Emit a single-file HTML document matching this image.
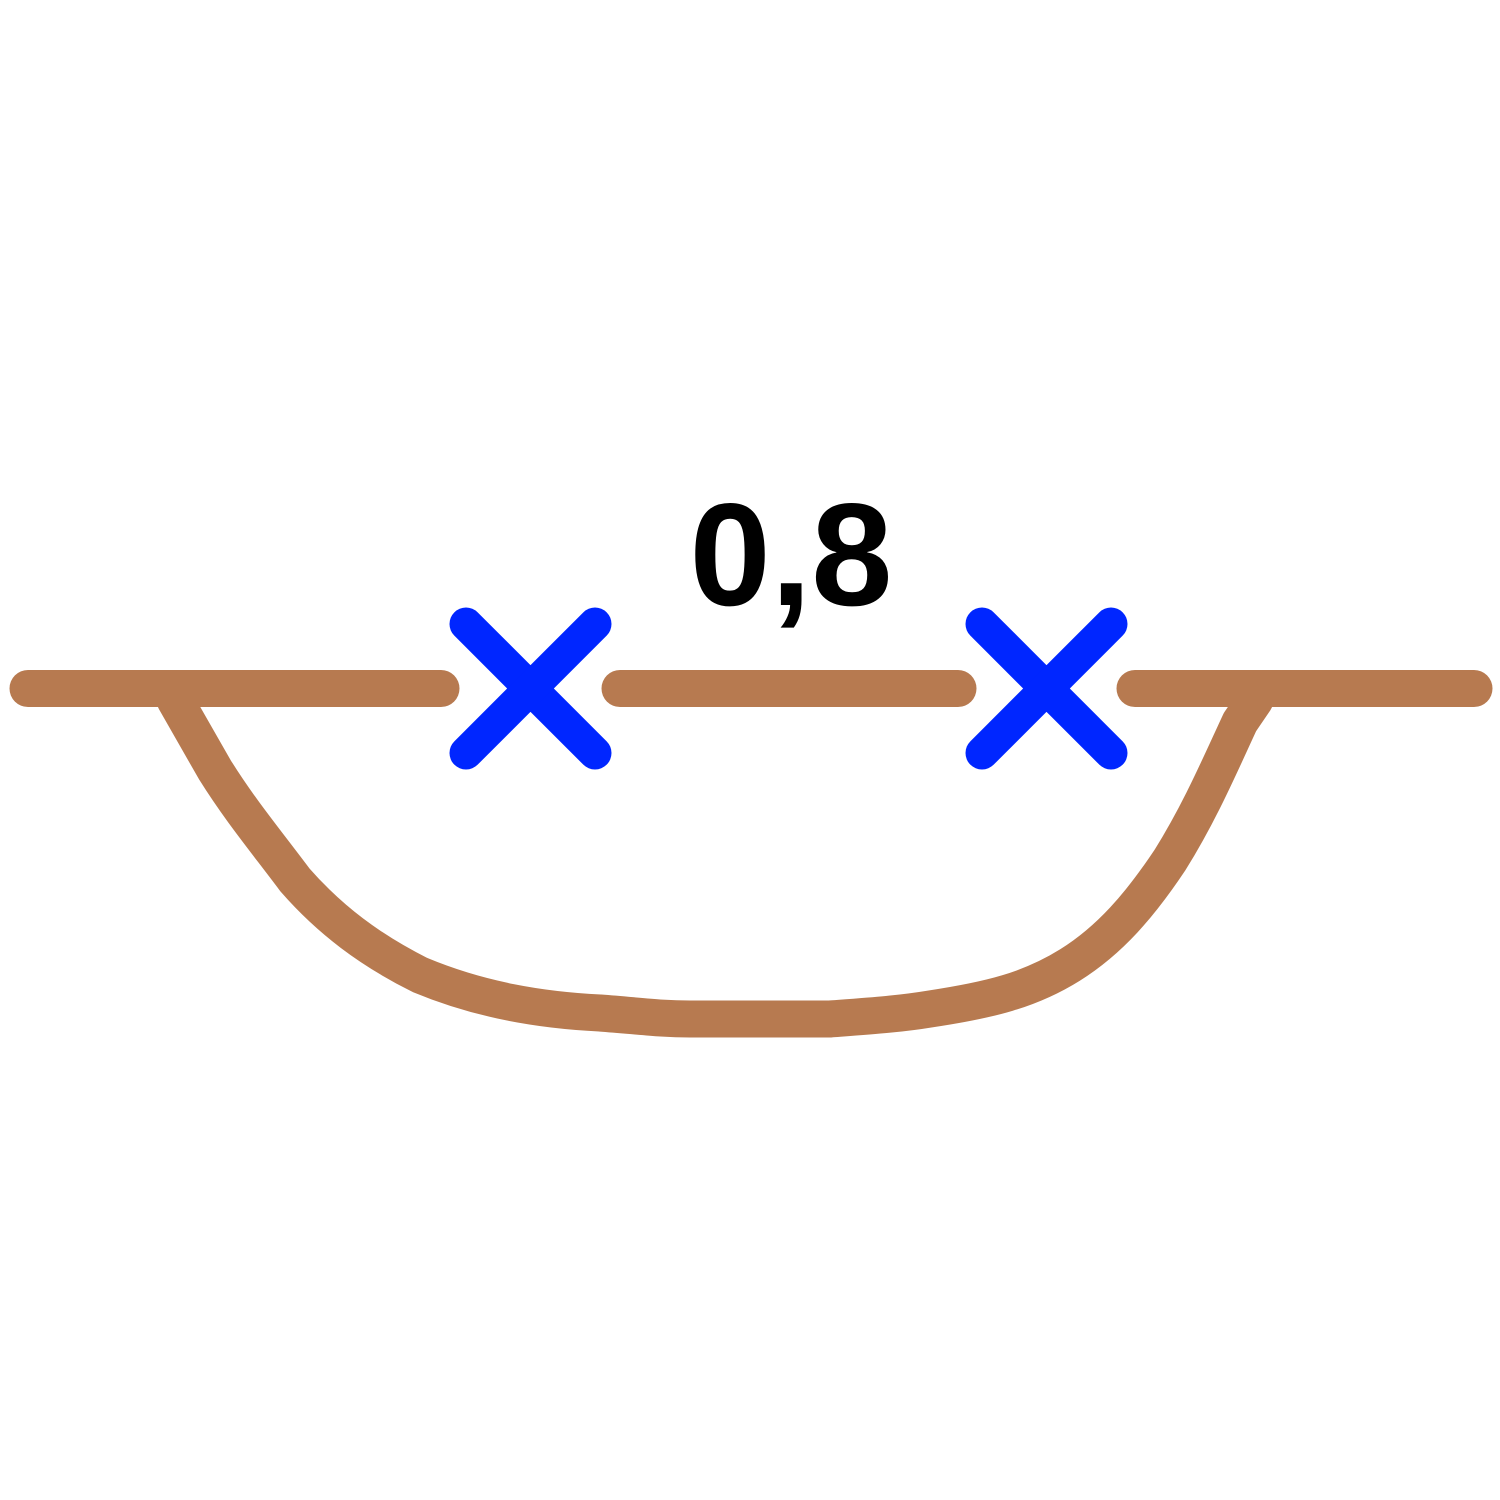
<!DOCTYPE html>
<html><head><meta charset="utf-8"><style>
html,body{margin:0;padding:0;background:#fff;width:1500px;height:1500px;overflow:hidden}
svg{display:block}
</style></head><body>
<svg width="1500" height="1500" viewBox="0 0 1500 1500">
<g fill="none" stroke="#b77a50" stroke-width="37" stroke-linecap="round" stroke-linejoin="round">
<path d="M175,700 L215,770 C240,810 265,840 295,880 C330,920 370,950 420,975 C480,1000 540,1010 600,1013 C640,1016 660,1019 690,1019 L830,1019 C870,1016 900,1014 930,1009 C990,1000 1030,990 1070,965 C1110,940 1140,905 1170,860 C1200,812 1220,765 1240,722 L1255,700"/>
<line x1="28" y1="688.5" x2="441" y2="688.5"/>
<line x1="620" y1="688.5" x2="958" y2="688.5"/>
<line x1="1135" y1="688.5" x2="1474" y2="688.5"/>
</g>
<g stroke="#0026ff" stroke-width="33" stroke-linecap="round">
<g>
<line x1="466" y1="624" x2="595" y2="753"/><line x1="595" y1="624" x2="466" y2="753"/>
</g>
<g>
<line x1="982" y1="624" x2="1111" y2="753"/><line x1="1111" y1="624" x2="982" y2="753"/>
</g>
</g>
<text x="791" y="605" text-anchor="middle" font-family="Liberation Sans, sans-serif" font-weight="bold" font-size="146" fill="#000">0,8</text>
</svg>
</body></html>
